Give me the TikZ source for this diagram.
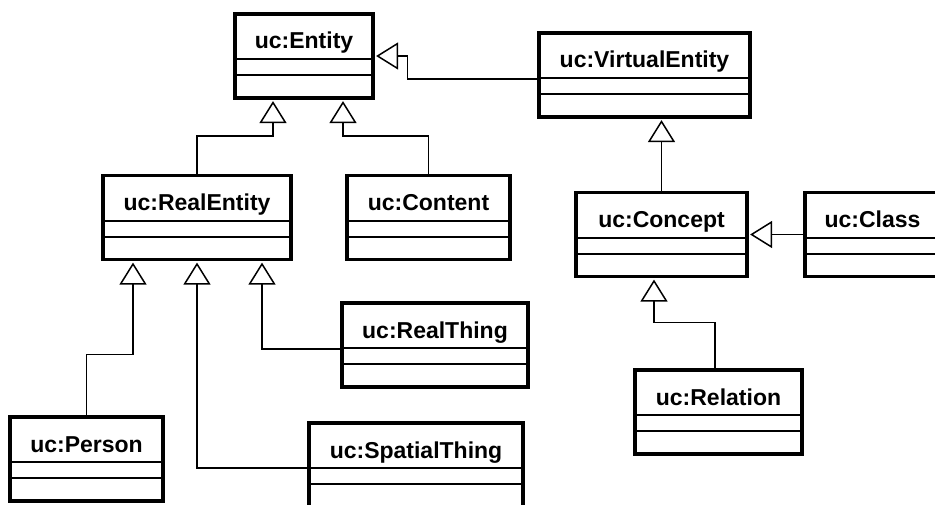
\documentclass[tikz,border=0pt]{standalone}
\usepackage{fontspec}
\setmainfont{Liberation Sans}
\usetikzlibrary{arrows.meta,calc}

\tikzset{
  classbox/.style={draw, line width=3.2pt, fill=white, rectangle, inner xsep=0pt, inner ysep=0pt,
    text height=35pt, text depth=49pt, minimum height=84pt,
    font=\bfseries\fontsize{23}{27}\selectfont},
  sep/.style={line width=2pt},
  gen/.style={line width=1.8pt, shorten >=1.5pt,
    -{Triangle[open, length=22pt, width=27pt, line width=1.5pt, fill=white]}}
}

\begin{document}
\begin{tikzpicture}[x=1pt,y=1pt,yscale=-1,xscale=1]
        \useasboundingbox (0,0) rectangle (935,505);
        % Class Node
        \draw (304,56) node [classbox, minimum width=138] (entity) {uc:Entity};
        \draw [sep] ($(entity.north west)+(0,47)$) -- ($(entity.north east)+(0,47)$);
        \draw [sep] ($(entity.north west)+(0,63)$) -- ($(entity.north east)+(0,63)$);
        % Class Node
        \draw (644.5,75) node [classbox, minimum width=211] (ventity) {uc:VirtualEntity};
        \draw [sep] ($(ventity.north west)+(0,47)$) -- ($(ventity.north east)+(0,47)$);
        \draw [sep] ($(ventity.north west)+(0,63)$) -- ($(ventity.north east)+(0,63)$);
        % Class Node
        \draw (197,217.5) node [classbox, minimum width=188] (rentity) {uc:RealEntity};
        \draw [sep] ($(rentity.north west)+(0,47)$) -- ($(rentity.north east)+(0,47)$);
        \draw [sep] ($(rentity.north west)+(0,63)$) -- ($(rentity.north east)+(0,63)$);
        % Class Node
        \draw (428.5,217.5) node [classbox, minimum width=163] (content) {uc:Content};
        \draw [sep] ($(content.north west)+(0,47)$) -- ($(content.north east)+(0,47)$);
        \draw [sep] ($(content.north west)+(0,63)$) -- ($(content.north east)+(0,63)$);
        % Class Node
        \draw (661.5,234.5) node [classbox, minimum width=171] (concept) {uc:Concept};
        \draw [sep] ($(concept.north west)+(0,47)$) -- ($(concept.north east)+(0,47)$);
        \draw [sep] ($(concept.north west)+(0,63)$) -- ($(concept.north east)+(0,63)$);
        % Class Node
        \draw (872.5,234.5) node [classbox, minimum width=135] (class) {uc:Class};
        \draw [sep] ($(class.north west)+(0,47)$) -- ($(class.north east)+(0,47)$);
        \draw [sep] ($(class.north west)+(0,63)$) -- ($(class.north east)+(0,63)$);
        % Class Node
        \draw (435,345) node [classbox, minimum width=186] (rthing) {uc:RealThing};
        \draw [sep] ($(rthing.north west)+(0,47)$) -- ($(rthing.north east)+(0,47)$);
        \draw [sep] ($(rthing.north west)+(0,63)$) -- ($(rthing.north east)+(0,63)$);
        % Class Node
        \draw (718.5,412) node [classbox, minimum width=167] (relation) {uc:Relation};
        \draw [sep] ($(relation.north west)+(0,47)$) -- ($(relation.north east)+(0,47)$);
        \draw [sep] ($(relation.north west)+(0,63)$) -- ($(relation.north east)+(0,63)$);
        % Class Node
        \draw (86.5,459) node [classbox, minimum width=153] (person) {uc:Person};
        \draw [sep] ($(person.north west)+(0,47)$) -- ($(person.north east)+(0,47)$);
        \draw [sep] ($(person.north west)+(0,63)$) -- ($(person.north east)+(0,63)$);
        % Class Node
        \draw (416,465) node [classbox, minimum width=214] (sthing) {uc:SpatialThing};
        \draw [sep] ($(sthing.north west)+(0,47)$) -- ($(sthing.north east)+(0,47)$);
        \draw [sep] ($(sthing.north west)+(0,63)$) -- ($(sthing.north east)+(0,63)$);
        % Generalization
        \draw [gen] ($(ventity.west)+(0,4)$) -- ++(-130,0) |- (entity.east);
        % Generalization
        \draw [gen] (rentity.north) -- ++(0,-38) -| ($(entity.south)+(-31,0)$);
        % Generalization
        \draw [gen] (content.north) -- ++(0,-38) -| ($(entity.south)+(39,0)$);
        % Generalization
        \draw [gen] (concept.north) -- (concept.north |- ventity.south);
        % Generalization
        \draw [gen] (class.west) -- (concept.east);
        % Generalization
        \draw [gen] ($(relation.north)+(-3.5,0)$) -- ++(0,-46) -| ($(concept.south)+(-7.5,0)$);
        % Generalization
        \draw [gen] (person.north) -- ++(0,-61) -| ($(rentity.south)+(-64,0)$);
        % Generalization
        \draw [gen] ($(sthing.west)+(0,3)$) -| (rentity.south);
        % Generalization
        \draw [gen] ($(rthing.west)+(0,4)$) -| ($(rentity.south)+(65,0)$);
    \end{tikzpicture}
\end{document}
